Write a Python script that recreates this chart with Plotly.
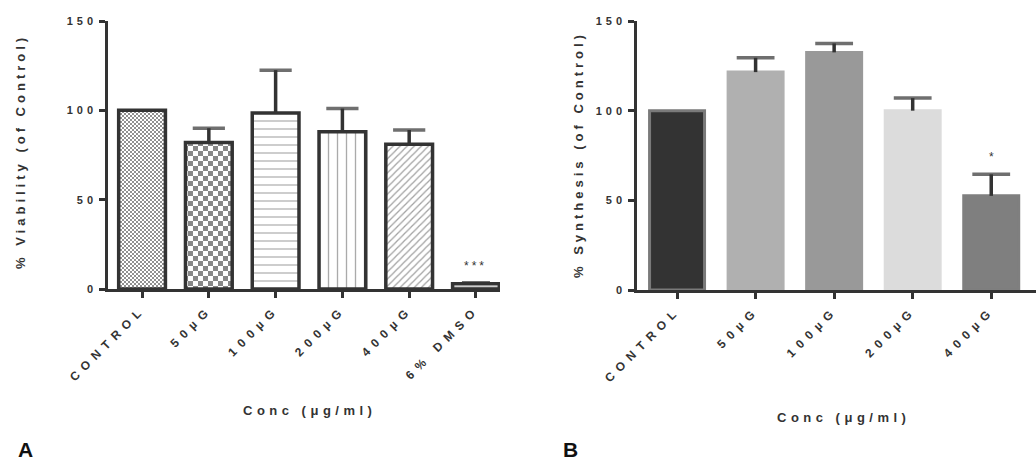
import plotly.graph_objects as go

# Panel A: viability
cats_a = ["CONTROL", "50µG", "100µG", "200µG", "400µG", "6% DMSO"]
vals_a = [100, 82, 98.5, 88, 81, 3]
err_a = [0, 8, 24, 13, 8, 0.5]

# Panel B: synthesis
cats_b = ["CONTROL", "50µG", "100µG", "200µG", "400µG"]
vals_b = [100, 121.5, 132.5, 100, 52.5]
err_b = [0, 8, 5, 7, 12]
colors_b = ["#333333", "#b0b0b0", "#999999", "#dcdcdc", "#7f7f7f"]
borders_b = ["#7a7a7a", "#b0b0b0", "#999999", "#dcdcdc", "#7f7f7f"]

FONT = "Liberation Sans"
DARK = "#333333"


def spaced(t, ls):
    return f"<span style='letter-spacing:{ls}px'>{t}</span>"


def checker(s):
    h = s / 2
    return f"M0,0H{h}V{h}H0Z M{h},{h}H{s}V{s}H{h}Z"


patterns_a = [
    dict(path=checker(4), size=4, fgcolor="#222222", bgcolor="white", fillmode="overlay"),
    dict(path=checker(10), size=10, fgcolor="#111111", bgcolor="white", fillmode="overlay"),
    dict(shape="-", size=8, solidity=0.15, fgcolor="#555555", bgcolor="white", fillmode="overlay"),
    dict(shape="|", size=9, solidity=0.15, fgcolor="#555555", bgcolor="white", fillmode="overlay"),
    dict(shape="/", size=5, solidity=0.25, fgcolor="#444444", bgcolor="white", fillmode="overlay"),
    dict(shape="-", size=4, solidity=0.3, fgcolor="#555555", bgcolor="white", fillmode="overlay"),
]

fig = go.Figure()

for i, c in enumerate(cats_a):
    fig.add_trace(go.Bar(
        x=[c], y=[vals_a[i]], xaxis="x", yaxis="y", width=0.7,
        marker=dict(color="white", line=dict(color=DARK, width=3.5), pattern=patterns_a[i]),
        error_y=dict(type="data", symmetric=False, array=[err_a[i]], arrayminus=[0],
                     color=DARK, thickness=3.5, width=0, visible=err_a[i] > 0),
        showlegend=False, hoverinfo="skip"))

# error-bar caps (top only)
fig.add_trace(go.Scatter(
    x=cats_a, y=[v + e for v, e in zip(vals_a, err_a)], xaxis="x", yaxis="y", mode="markers",
    marker=dict(symbol="line-ew", size=[0, 23, 23, 23, 23, 20],
                line=dict(color=DARK, width=3.5)),
    showlegend=False, hoverinfo="skip"))

fig.add_trace(go.Bar(
    x=cats_b, y=vals_b, xaxis="x2", yaxis="y2", width=0.7,
    marker=dict(color=colors_b, line=dict(color=borders_b, width=3)),
    error_y=dict(type="data", symmetric=False, array=err_b, arrayminus=[0]*len(err_b),
                 color=DARK, thickness=3.5, width=0),
    showlegend=False, hoverinfo="skip"))

fig.add_trace(go.Scatter(
    x=cats_b, y=[v + e for v, e in zip(vals_b, err_b)], xaxis="x2", yaxis="y2", mode="markers",
    marker=dict(symbol="line-ew", size=[0, 27, 27, 27, 27],
                line=dict(color=DARK, width=3.5)),
    showlegend=False, hoverinfo="skip"))

axis_common = dict(showgrid=False, zeroline=False, showline=True, linecolor=DARK,
                   linewidth=2.5, ticks="outside", tickcolor=DARK, tickwidth=2.5, ticklen=6,
                   automargin=False)
xtf = dict(family=FONT, size=12, color=DARK, weight="bold")
ytf = dict(family=FONT, size=11, color=DARK, weight="bold")
yticks = [0, 50, 100, 150]

fig.update_layout(
    width=1036, height=464, margin=dict(l=0, r=0, t=0, b=0, autoexpand=False),
    plot_bgcolor="white", paper_bgcolor="white", bargap=0.3,
    xaxis=dict(domain=[108/1036, 500/1036], range=[-0.51, 5.36], anchor="y",
               tickangle=-45, categoryorder="array", categoryarray=cats_a,
               tickvals=cats_a, ticktext=[spaced(c, 6) for c in cats_a], tickfont=xtf,
               **axis_common),
    yaxis=dict(domain=[1-289/464, 1-21/464], range=[0, 150], anchor="x",
               tickvals=yticks, ticktext=[spaced(str(t), 4) for t in yticks], tickfont=ytf,
               **axis_common),
    xaxis2=dict(domain=[637/1036, 1.0], range=[-0.51, 4.57], anchor="y2",
                tickangle=-45, categoryorder="array", categoryarray=cats_b,
                tickvals=cats_b, ticktext=[spaced(c, 6) for c in cats_b], tickfont=xtf,
                **axis_common),
    yaxis2=dict(domain=[1-290/464, 1-21/464], range=[0, 150], anchor="x2",
                tickvals=yticks, ticktext=[spaced(str(t), 4) for t in yticks], tickfont=ytf,
                **axis_common),
)

tf = dict(family=FONT, size=13, color=DARK, weight="bold")
ann = [
    dict(text=spaced("% Viability (of Control)", 4), x=20/1036, y=1-152/464, textangle=-90, font=tf),
    dict(text=spaced("% Synthesis (of Control)", 4), x=578/1036, y=1-155/464, textangle=-90, font=tf),
    dict(text=spaced("Conc (μg/ml)", 4.5), x=309/1036, y=1-410/464, font=tf),
    dict(text=spaced("Conc (μg/ml)", 4.5), x=843/1036, y=1-417/464, font=tf),
    dict(text="A", x=25/1036, y=1-449/464, font=dict(family=FONT, size=21, color="#111", weight="bold")),
    dict(text="B", x=570/1036, y=1-449/464, font=dict(family=FONT, size=21, color="#111", weight="bold")),
]
for a in ann:
    fig.add_annotation(xref="paper", yref="paper", showarrow=False, xanchor="center",
                       yanchor="middle", **a)

fig.add_annotation(x="6% DMSO", y=vals_a[5] + err_a[5], xref="x", yref="y", text=spaced("***", 3),
                   showarrow=False, yshift=17, font=dict(family=FONT, size=12, color=DARK))
fig.add_annotation(x="400µG", y=vals_b[4] + err_b[4], xref="x2", yref="y2", text="*",
                   showarrow=False, yshift=17, font=dict(family=FONT, size=12, color=DARK))

fig.write_html("out.html")
